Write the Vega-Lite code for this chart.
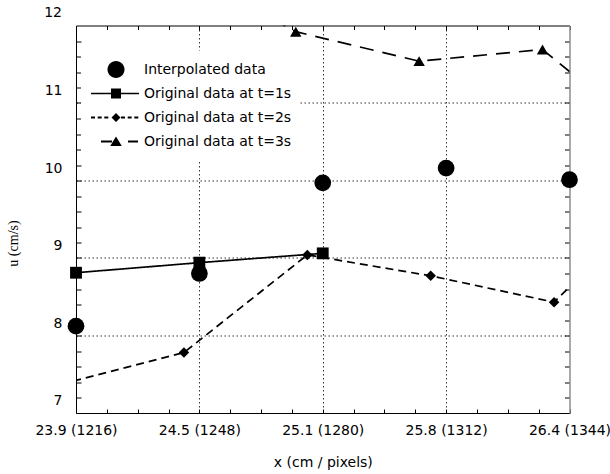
{
  "$schema": "https://vega.github.io/schema/vega-lite/v6.json",
  "autosize": "none",
  "width": 493.5,
  "height": 387.5,
  "padding": {"left": 76, "top": 25.5, "right": 40.5, "bottom": 61},
  "background": "white",
  "config": {
    "view": {"stroke": null},
    "axis": {
      "labelFont": "DejaVu Sans",
      "labelFontSize": 14,
      "labelColor": "black",
      "titleFont": "DejaVu Sans",
      "titleFontSize": 14,
      "titleFontWeight": "normal",
      "titleColor": "black",
      "domainColor": "black",
      "domainWidth": 1,
      "tickColor": "black",
      "tickWidth": 1,
      "labelOverlap": false,
      "labelFlush": false,
      "labelBound": false
    }
  },
  "data": {
    "values": [
      {"series": "Interpolated data", "x": 1216, "u": 7.92},
      {"series": "Interpolated data", "x": 1248, "u": 8.6},
      {"series": "Interpolated data", "x": 1280, "u": 9.77},
      {"series": "Interpolated data", "x": 1312, "u": 9.96},
      {"series": "Interpolated data", "x": 1344, "u": 9.81},
      {"series": "Original data at t=1s", "x": 1216, "u": 8.61},
      {"series": "Original data at t=1s", "x": 1248, "u": 8.74},
      {"series": "Original data at t=1s", "x": 1280, "u": 8.86},
      {"series": "Original data at t=2s", "x": 1212, "u": 7.17},
      {"series": "Original data at t=2s", "x": 1244, "u": 7.58},
      {"series": "Original data at t=2s", "x": 1276, "u": 8.84},
      {"series": "Original data at t=2s", "x": 1308, "u": 8.57},
      {"series": "Original data at t=2s", "x": 1340, "u": 8.23},
      {"series": "Original data at t=2s", "x": 1372, "u": 9.81},
      {"series": "Original data at t=3s", "x": 1241, "u": 12.6},
      {"series": "Original data at t=3s", "x": 1273, "u": 11.72},
      {"series": "Original data at t=3s", "x": 1305, "u": 11.34},
      {"series": "Original data at t=3s", "x": 1337, "u": 11.49},
      {"series": "Original data at t=3s", "x": 1369, "u": 10.19}
    ]
  },
  "layer": [
    {
      "transform": [{"filter": "datum.series !== 'Interpolated data'"}],
      "mark": {"type": "line", "clip": true, "strokeWidth": 1.7, "color": "black"},
      "encoding": {
        "x": {
          "field": "x",
          "type": "quantitative",
          "scale": {"domain": [1216, 1344], "nice": false, "zero": false},
          "axis": {
            "orient": "bottom",
            "values": [1216, 1224, 1232, 1240, 1248, 1256, 1264, 1272, 1280, 1288, 1296, 1304, 1312, 1320, 1328, 1336, 1344],
            "tickSize": -4,
            "labelPadding": 14,
            "labelExpr": "datum.value === 1216 ? '23.9 (1216)' : datum.value === 1248 ? '24.5 (1248)' : datum.value === 1280 ? '25.1 (1280)' : datum.value === 1312 ? '25.8 (1312)' : datum.value === 1344 ? '26.4 (1344)' : ''",
            "title": "x (cm / pixels)",
            "titleY": 49,
            "titleBaseline": "middle",
            "grid": true,
            "gridColor": "#333333",
            "gridDash": [1.5, 2.5],
            "gridWidth": 1,
            "gridOpacity": {"condition": {"test": "datum.value === 1248 || datum.value === 1280 || datum.value === 1312", "value": 1}, "value": 0}
          }
        },
        "y": {
          "field": "u",
          "type": "quantitative",
          "scale": {"domain": [6.8, 11.8], "nice": false, "zero": false},
          "axis": {
            "orient": "left",
            "values": [7, 7.2, 7.4, 7.6, 7.8, 8, 8.2, 8.4, 8.6, 8.8, 9, 9.2, 9.4, 9.6, 9.8, 10, 10.2, 10.4, 10.6, 10.8, 11, 11.2, 11.4, 11.6],
            "tickSize": -5,
            "labelPadding": 19,
            "labelOffset": 3,
            "labelExpr": "datum.value % 1 === 0 ? format(datum.value, 'd') : ''",
            "title": "u (cm/s)",
            "titleFont": "Liberation Serif",
            "titleFontSize": 14,
            "titleX": -63,
            "titleY": 217.5,
            "titleAngle": 270,
            "titleAlign": "center",
            "titleBaseline": "middle",
            "grid": true,
            "gridColor": "#333333",
            "gridDash": [1.5, 2.5],
            "gridWidth": 1,
            "gridOpacity": {"condition": {"test": "datum.value === 7.8 || datum.value === 8.8 || datum.value === 9.8 || datum.value === 10.8", "value": 1}, "value": 0}
          }
        },
        "strokeDash": {
          "field": "series",
          "type": "nominal",
          "scale": {
            "domain": ["Original data at t=1s", "Original data at t=2s", "Original data at t=3s"],
            "range": [[1, 0], [8, 5], [14, 9]]
          },
          "legend": null
        }
      }
    },
    {
      "transform": [{"filter": "datum.x >= 1216 && datum.x <= 1344 && datum.u <= 11.8"}],
      "mark": {"type": "point", "filled": true, "opacity": 1, "color": "black"},
      "encoding": {
        "x": {
          "field": "x",
          "type": "quantitative",
          "scale": {"domain": [1216, 1344], "nice": false, "zero": false},
          "axis": {
            "orient": "top",
            "values": [1216, 1224, 1232, 1240, 1248, 1256, 1264, 1272, 1280, 1288, 1296, 1304, 1312, 1320, 1328, 1336, 1344],
            "tickSize": -4,
            "labels": false,
            "title": null,
            "grid": false
          }
        },
        "y": {
          "field": "u",
          "type": "quantitative",
          "scale": {"domain": [6.8, 11.8], "nice": false, "zero": false},
          "axis": {
            "orient": "right",
            "values": [7, 7.2, 7.4, 7.6, 7.8, 8, 8.2, 8.4, 8.6, 8.8, 9, 9.2, 9.4, 9.6, 9.8, 10, 10.2, 10.4, 10.6, 10.8, 11, 11.2, 11.4, 11.6],
            "tickSize": -5,
            "labels": false,
            "title": null,
            "grid": false,
            "domainColor": "#8c8c8c",
            "domainWidth": 1.5
          }
        },
        "size": {
          "condition": [
            {"test": "datum.series === 'Interpolated data'", "value": 280},
            {"test": "datum.series === 'Original data at t=1s'", "value": 140},
            {"test": "datum.series === 'Original data at t=2s'", "value": 110}
          ],
          "value": 130
        },
        "shape": {
          "field": "series",
          "type": "nominal",
          "scale": {
            "domain": ["Interpolated data", "Original data at t=1s", "Original data at t=2s", "Original data at t=3s"],
            "range": ["circle", "square", "diamond", "triangle-up"]
          },
          "legend": null
        }
      }
    },
    {
      "transform": [{"filter": "false"}],
      "mark": {"type": "point", "filled": true, "opacity": 1, "fill": "black"},
      "encoding": {
        "shape": {
          "field": "series",
          "type": "nominal",
          "scale": {
            "domain": ["Interpolated data", "Original data at t=1s", "Original data at t=2s", "Original data at t=3s"],
            "range": [
              "M-2.5,-0.9M2.4,0.9M-0.85,0A0.85,0.85,0,1,1,0.85,0A0.85,0.85,0,1,1,-0.85,0Z",
              "M-2.5,-0.9M2.4,0.9M-2.5,-0.075H2.3V0.075H-2.5ZM-0.5,-0.5H0.5V0.5H-0.5Z",
              "M-2.5,-0.9M2.4,0.9M-2.5,-0.09H-2.1V0.09H-2.5ZM-1.83,-0.09H-1.43V0.09H-1.83ZM-1.17,-0.09H-0.77V0.09H-1.17ZM0.5,-0.09H0.9V0.09H0.5ZM1.17,-0.09H1.57V0.09H1.17ZM1.83,-0.09H2.23V0.09H1.83ZM0,-0.45L0.45,0L0,0.45L-0.45,0Z",
              "M-2.5,-0.9M2.4,0.9M-1.5,-0.09H-0.4V0.09H-1.5ZM1.2,-0.09H2.2V0.09H1.2ZM0,-0.5L0.58,0.45H-0.58Z"
            ]
          },
          "legend": {
            "orient": "none",
            "legendX": 5,
            "legendY": 25,
            "title": null,
            "padding": 8,
            "fillColor": "white",
            "rowPadding": 0,
            "symbolSize": 400,
            "symbolOffset": 16,
            "labelOffset": 17,
            "symbolFillColor": "black",
            "symbolOpacity": 1,
            "labelFont": "DejaVu Sans",
            "labelFontSize": 14,
            "labelColor": "black",
            "labelLimit": 0
          }
        }
      }
    },
    {
      "data": {"values": [{"label": "12"}]},
      "mark": {"type": "text", "align": "right", "baseline": "middle", "dx": -14, "dy": 3, "font": "DejaVu Sans", "fontSize": 14, "color": "black"},
      "encoding": {
        "x": {"datum": 1216, "type": "quantitative", "axis": null},
        "y": {"datum": 12, "type": "quantitative", "axis": null},
        "text": {"field": "label"}
      }
    }
  ],
  "resolve": {
    "axis": {"x": "independent", "y": "independent"},
    "scale": {"shape": "independent"},
    "legend": {"shape": "independent"}
  }
}
